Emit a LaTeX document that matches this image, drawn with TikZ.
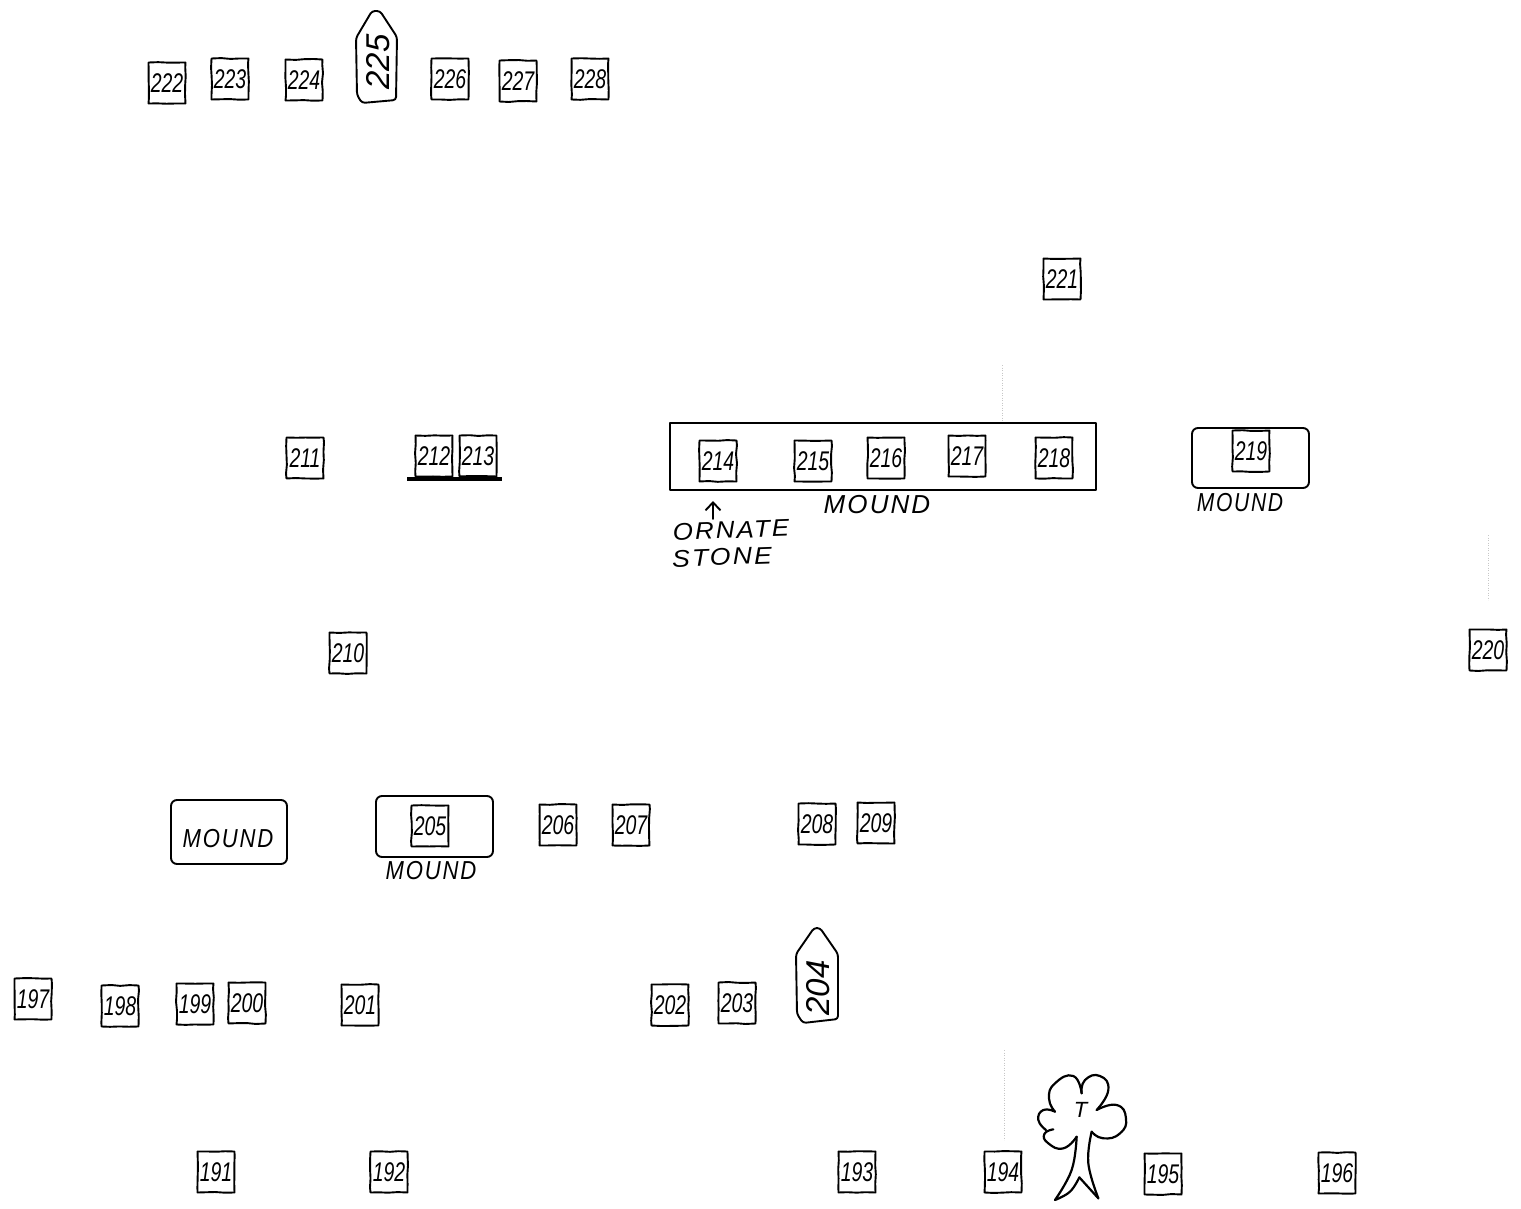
\documentclass[tikz,border=0pt]{standalone}
\usepackage{fontspec}
\usetikzlibrary{decorations.pathmorphing,arrows.meta}
\setmainfont{Liberation Sans}[ItalicFont=* Italic]
\newfontfamily\handcaps{Liberation Sans Italic}[LetterSpace=8]
\newfontfamily\handnum{Liberation Sans Italic}[FakeStretch=0.72]
\pgfmathsetseed{7}
\tikzset{
  ink/.style={line width=1.9pt,black,line cap=round,line join=round},
  wobble/.style={decorate,decoration={random steps,segment length=9pt,amplitude=0.5pt}},
  stake/.style={ink,wobble,draw,rectangle,minimum width=37pt,minimum height=41pt,inner sep=0pt,font=\fontsize{27}{27}\selectfont\handnum},
  moundbox/.style={ink,draw,rectangle,rounded corners=6pt,inner sep=0pt},
  handnote/.style={inner sep=0pt,font=\fontsize{26}{26}\selectfont\handcaps},
  smallnote/.style={inner sep=0pt,font=\fontsize{24}{24}\selectfont\handcaps},
  tallstone/.style={ink,rounded corners=3pt},
  tallnum/.style={rotate=90,inner sep=0pt,font=\fontsize{33}{33}\selectfont\itshape},
  speck/.style={line width=0.5pt,black!22,dotted},
  treeline/.style={ink,line width=2.2pt}
}
\newcommand{\stk}[3]{\node[stake] (s#3) at (#1,#2) {#3};}
\begin{document}
\begin{tikzpicture}[x=1pt,y=-1pt]
\useasboundingbox (0,0) rectangle (1521,1209);
\fill[white] (0,0) rectangle (1521,1209);

% faint scan marks
\coordinate (ma) at (1002,365); \coordinate (mb) at (1002,424);
\coordinate (mc) at (1488,535); \coordinate (md) at (1488,600);
\coordinate (me) at (1004,1050); \coordinate (mf) at (1004,1140);
\draw[speck] (ma)--(mb); \draw[speck] (mc)--(md); \draw[speck] (me)--(mf);

% top row
\stk{167}{83}{222}\stk{230}{79}{223}\stk{304}{80}{224}
\stk{450}{79}{226}\stk{518}{81}{227}\stk{590}{79}{228}
\draw[tallstone] (356,38)--(372,11)--(380,11)--(397,37)--(396,100)--(362,103)--(357,95)--cycle;
\node[tallnum] (s225) at (378,62) {225};

\stk{1062}{279}{221}

% middle row
\stk{305}{458}{211}\stk{434}{456}{212}\stk{478}{456}{213}
\coordinate (la) at (407,479); \coordinate (lb) at (502,479);
\draw[line width=4pt,black] (la)--(lb);

\node[moundbox,minimum width=426pt,minimum height=67pt,rounded corners=0pt,line width=2.2pt] (mbig) at (883,456.5) {};
\stk{718}{461}{214}\stk{813}{461}{215}\stk{886}{458}{216}\stk{967}{456}{217}\stk{1054}{458}{218}
\node[handnote] (mt1) at (877,505) {MOUND};
\node[smallnote,rotate=2,xscale=1.08] (orn) at (731,530) {ORNATE};
\node[smallnote,rotate=2,xscale=1.11] (sto) at (722,557) {STONE};
\coordinate (ar) at (713,501);
\draw[ink,-{Straight Barb[length=8pt,width=15pt]}] (713,519)--(ar);

\node[moundbox,minimum width=117pt,minimum height=60pt] (m219) at (1250.5,458) {};
\stk{1251}{451}{219}
\node[handnote,xscale=.81] (mt2) at (1240,503) {MOUND};

\stk{1488}{650}{220}
\stk{348}{653}{210}

% mounds lower
\node[moundbox,minimum width=116pt,minimum height=64pt] (m0) at (229,832) {};
\node[handnote,xscale=.85] (mt3) at (228,839) {MOUND};
\node[moundbox,minimum width=117pt,minimum height=61pt] (m205) at (434.5,826.5) {};
\stk{430}{826}{205}
\node[handnote,xscale=.85] (mt4) at (431,871) {MOUND};
\stk{558}{825}{206}\stk{631}{825}{207}\stk{817}{824}{208}\stk{876}{823}{209}

% row 197-204
\stk{33}{999}{197}\stk{120}{1006}{198}\stk{195}{1004}{199}\stk{247}{1003}{200}
\stk{360}{1005}{201}\stk{670}{1005}{202}\stk{737}{1003}{203}
\draw[tallstone] (796,954)--(814,928)--(820,928)--(838,954)--(838,1019)--(803,1023)--(797,1014)--cycle;
\node[tallnum] (s204) at (818,988) {204};

% bottom row
\stk{216}{1172}{191}\stk{389}{1172}{192}\stk{857}{1172}{193}\stk{1003}{1172}{194}
\stk{1163}{1174}{195}\stk{1337}{1173}{196}

% tree
\begin{scope}[shift={(1020,1060)},x=0.3333pt,y=-0.3333pt]
\draw[treeline] plot[smooth,tension=.9] coordinates {(170,230)(130,265)(85,250)(73,222)(100,208)};
\draw[treeline] plot[smooth,tension=.9] coordinates {(78,210)(55,180)(70,150)(105,155)};
\draw[treeline] plot[smooth,tension=.9] coordinates {(105,155)(87,115)(105,70)(160,48)(185,100)};
\draw[treeline] plot[smooth,tension=.9] coordinates {(185,100)(195,60)(240,48)(265,90)(230,150)};
\draw[treeline] plot[smooth,tension=.9] coordinates {(230,150)(290,135)(318,175)(300,220)(250,235)(215,215)};
\draw[treeline] plot[smooth,tension=.7] coordinates {(170,230)(155,330)(105,420)};
\draw[treeline] plot[smooth,tension=.7] coordinates {(105,420)(150,395)(178,352)};
\draw[treeline] plot[smooth,tension=.7] coordinates {(215,215)(205,310)(235,415)};
\draw[treeline] (178,352)--(235,415);
\node[inner sep=0pt,font=\fontsize{22}{22}\selectfont\itshape] (treeT) at (182,150) {T};
\end{scope}
\end{tikzpicture}
\end{document}
